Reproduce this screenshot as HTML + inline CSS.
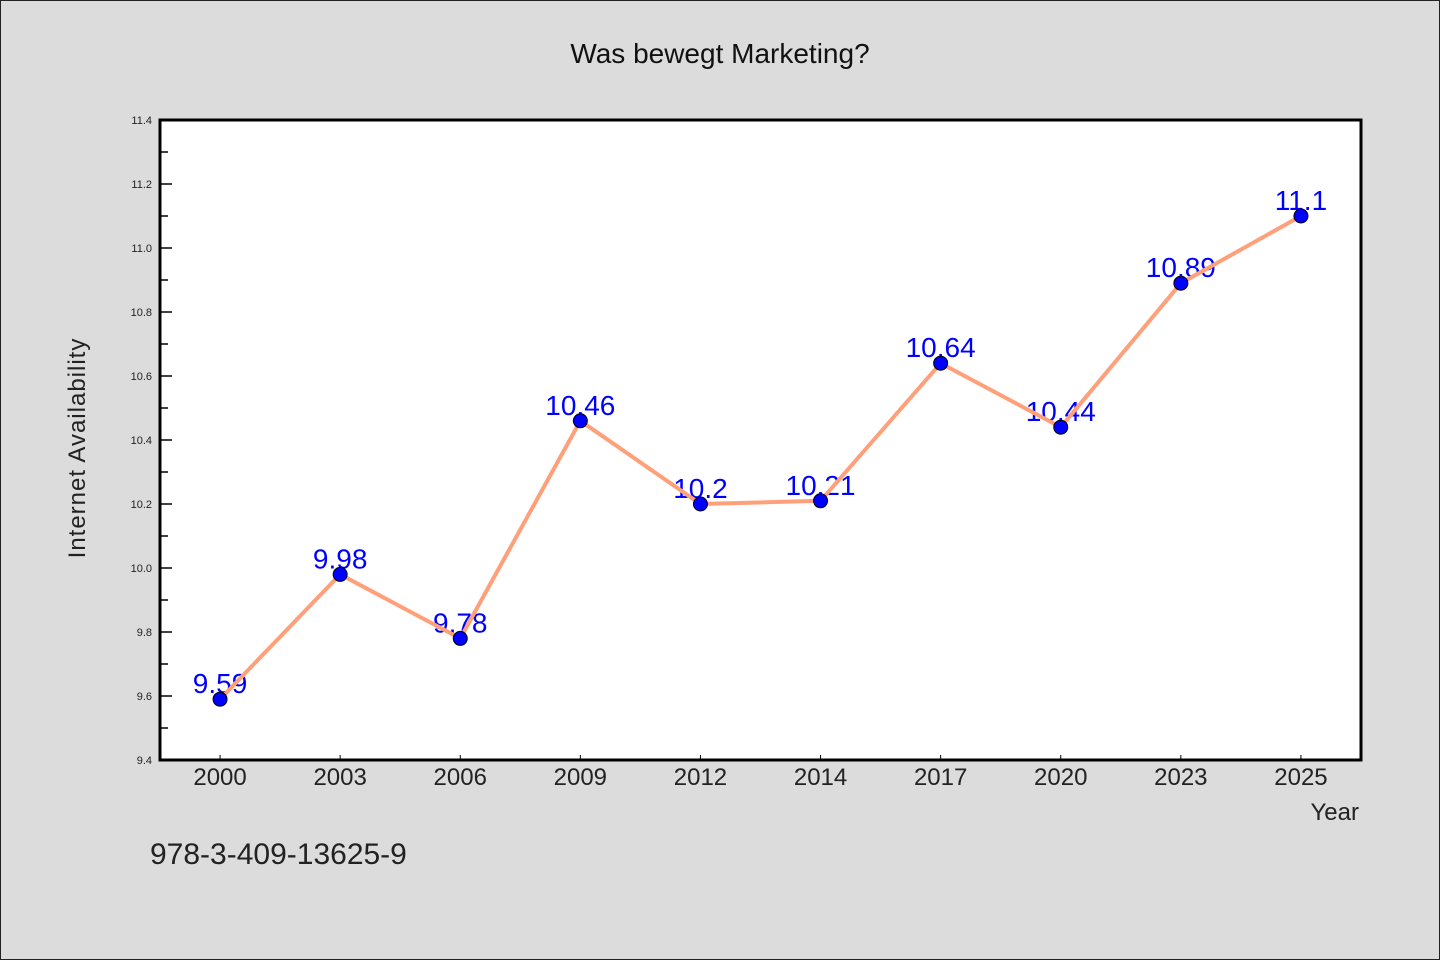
<!DOCTYPE html>
<html><head><meta charset="utf-8"><style>
body{margin:0;background:#dcdcdc;}
svg{display:block;font-family:"WenQuanYi Zen Hei","Liberation Sans",sans-serif;}
</style></head><body>
<svg id="chart" width="1440" height="960">
<rect x="0.5" y="0.5" width="1439" height="959" fill="#dcdcdc" stroke="#222"/>
<text x="720" y="63" font-size="28" text-anchor="middle" fill="#111">Was bewegt Marketing?</text>
<rect x="160" y="120" width="1201" height="640" fill="#fff"/>
<g id="axes"></g>
<text transform="translate(85,448) rotate(-90)" font-size="24" text-anchor="middle" fill="#222" letter-spacing="1">Internet Availability</text>
<text x="1359" y="820" font-size="24" text-anchor="end" fill="#222">Year</text>
<text x="150" y="864" font-size="30" fill="#222">978-3-409-13625-9</text>
</svg>
<script>
const categories=["2000","2003","2006","2009","2012","2014","2017","2020","2023","2025"];
const values=[9.59,9.98,9.78,10.46,10.2,10.21,10.64,10.44,10.89,11.1];
const yTicks=[9.4,9.6,9.8,10.0,10.2,10.4,10.6,10.8,11.0,11.2,11.4];
const NS="http://www.w3.org/2000/svg";
const L=160,R=1361,T=120,B=760,yMin=9.4,yMax=11.4;
const band=(R-L)/categories.length;
const x=i=>L+band*(i+0.5);
const y=v=>B-(v-yMin)/(yMax-yMin)*(B-T);
const g=document.getElementById('axes');
function mk(t,a){const e=document.createElementNS(NS,t);for(const k in a)e.setAttribute(k,a[k]);g.appendChild(e);return e;}
yTicks.forEach((v,i)=>{
 const t=mk('line',{x1:L,x2:L+12,y1:y(v),y2:y(v),stroke:'#000','stroke-width':1.5});
 
 
 const lb=mk('text',{x:L-8,y:y(v)+4,'font-size':11,'text-anchor':'end',fill:'#222'});
 lb.textContent=v.toFixed(1);
 
 
 if(i<yTicks.length-1){
  const m=mk('line',{x1:L,x2:L+8,y1:y(v+0.1),y2:y(v+0.1),stroke:'#000','stroke-width':1.5});
  
  
 }
});
categories.forEach((c,i)=>{
 const t=mk('line',{x1:x(i),x2:x(i),y1:B-5,y2:B,stroke:'#000','stroke-width':1});
 
 
 const lb=mk('text',{x:x(i),y:B+25,'font-size':24,'text-anchor':'middle',fill:'#222'});
 lb.textContent=c;
 
 
});
const fr=mk('rect',{x:L,y:T,width:R-L,height:B-T,fill:'none',stroke:'#000','stroke-width':3});


values.forEach((v,i)=>{
 const lb=mk('text',{x:x(i),y:y(v)-6,'font-size':28,'text-anchor':'middle',fill:'#0000ff'});
 lb.textContent=String(v);
 
 
});
const ln=mk('polyline',{points:values.map((v,i)=>x(i)+','+y(v)).join(' '),fill:'none',stroke:'#ffa07a','stroke-width':4});


values.forEach((v,i)=>{
 const p=mk('circle',{cx:x(i),cy:y(v),r:7,fill:'#0000ff',stroke:'#000','stroke-width':1});
 
 
});
</script>
</body></html>
